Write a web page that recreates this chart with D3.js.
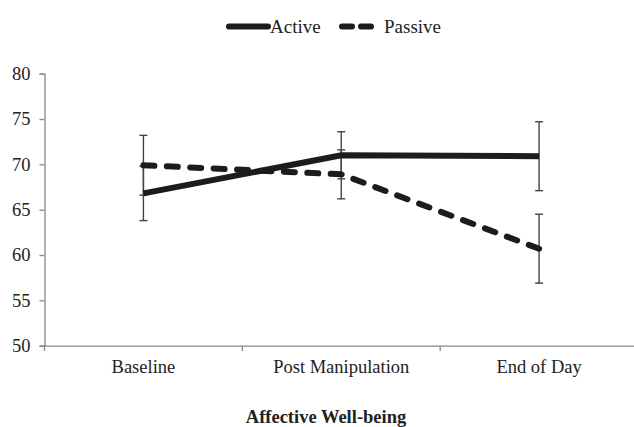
<!DOCTYPE html>
<html><head><meta charset="utf-8">
<script src="https://cdn.jsdelivr.net/npm/d3@7"></script>
<style>body{margin:0;background:#fff}svg{display:block}text{font-family:"Liberation Serif","Times New Roman",serif;fill:#222}</style>
</head><body><svg id="c" width="634" height="427"></svg>
<script>
const categories = ["Baseline", "Post Manipulation", "End of Day"];
const activeValues = [66.8, 71.0, 70.9];
const activeErrors = [3.0, 2.6, 3.8];
const passiveValues = [69.9, 68.9, 60.7];
const passiveErrors = [3.3, 2.7, 3.8];
const yTicks = [50, 55, 60, 65, 70, 75, 80];
const title = "Affective Well-being";

const svg = d3.select("#c");
const x = d3.scaleBand().domain(categories).range([44.5, 638]);
const y = d3.scaleLinear().domain([50, 80]).range([345.7, 73.7]);
const cx = d => x(d) + x.bandwidth() / 2;
const FS = 18.5;

// y axis
const ya = svg.append("g").attr("transform", "translate(44.5,0)")
  .call(d3.axisLeft(y).tickValues(yTicks).tickSize(5).tickPadding(9));
ya.select(".domain").attr("stroke", "#888").attr("stroke-width", 1.3);
ya.selectAll(".tick line").attr("stroke", "#888").attr("stroke-width", 1.3);
ya.selectAll(".tick text").attr("font-size", FS).attr("font-family", "Liberation Serif").attr("fill", "#222");

// x axis
const xa = svg.append("g").attr("transform", "translate(0,345.7)")
  .call(d3.axisBottom(x).tickSize(0).tickPadding(14));
xa.select(".domain").attr("stroke", "#888").attr("stroke-width", 1.3);
xa.selectAll(".tick text").attr("font-size", FS).attr("font-family", "Liberation Serif").attr("fill", "#222");
// boundary ticks
const bounds = categories.map(c => x(c));
svg.append("g").selectAll("line").data(bounds).join("line")
  .attr("x1", d => d).attr("x2", d => d).attr("y1", 345.7).attr("y2", 351)
  .attr("stroke", "#888").attr("stroke-width", 1.3);

const series = [
  {vals: activeValues, errs: activeErrors, dashed: false},
  {vals: passiveValues, errs: passiveErrors, dashed: true}
];

// error bars
series.forEach(s => {
  const g = svg.append("g").attr("stroke", "#444").attr("stroke-width", 1.4);
  categories.forEach((c, i) => {
    const v = s.vals[i], e = s.errs[i];
    g.append("line").attr("x1", cx(c)).attr("x2", cx(c)).attr("y1", y(v + e)).attr("y2", y(v - e));
    [v + e, v - e].forEach(t => g.append("line").attr("x1", cx(c) - 4).attr("x2", cx(c) + 4).attr("y1", y(t)).attr("y2", y(t)));
  });
});

// lines
const line = d3.line().x(d => cx(d.c)).y(d => y(d.v));
series.forEach(s => {
  const p = svg.append("path")
    .datum(categories.map((c, i) => ({c, v: s.vals[i]})))
    .attr("d", line).attr("fill", "none").attr("stroke", "#1c1c1c")
    .attr("stroke-width", 6);
  if (s.dashed) {
    const L = p.node().getTotalLength();
    const dash = 11;
    const k = Math.round((L - dash) / 24);
    const period = (L - dash) / k;
    p.attr("stroke-dasharray", dash + "," + (period - dash)).attr("stroke-linecap", "round");
  }
});

// legend
const lg = svg.append("g");
lg.append("line").attr("x1", 229).attr("x2", 268).attr("y1", 26.5).attr("y2", 26.5)
  .attr("stroke", "#1c1c1c").attr("stroke-width", 6).attr("stroke-linecap", "round");
lg.append("text").attr("x", 270).attr("y", 32.5).attr("font-size", 19).text("Active");
lg.append("line").attr("x1", 342).attr("x2", 377).attr("y1", 26.5).attr("y2", 26.5)
  .attr("stroke", "#1c1c1c").attr("stroke-width", 6).attr("stroke-linecap", "round")
  .attr("stroke-dasharray", "10,9");
lg.append("text").attr("x", 384).attr("y", 32.5).attr("font-size", 19).text("Passive");

// title
svg.append("text").attr("x", 326).attr("y", 423).attr("text-anchor", "middle")
  .attr("font-size", FS).attr("font-weight", "bold").text(title);
</script></body></html>
